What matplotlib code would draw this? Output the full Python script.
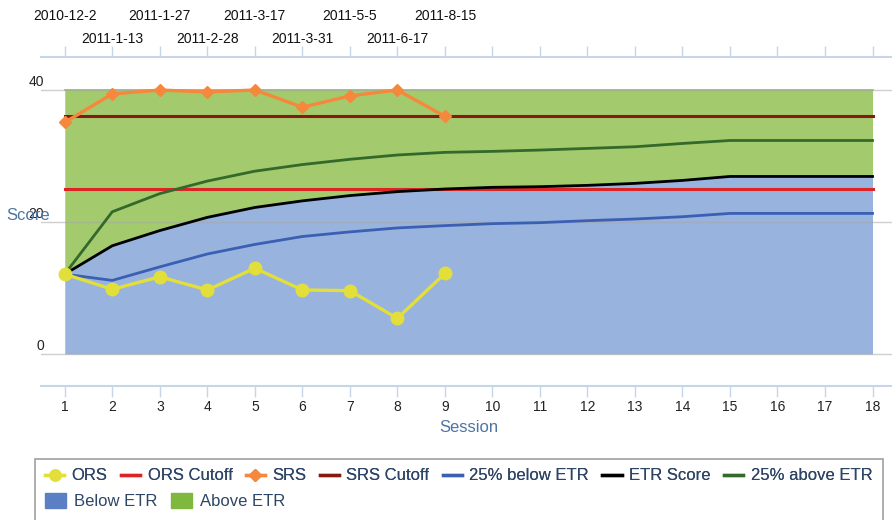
import matplotlib
matplotlib.use("Agg")
import matplotlib.pyplot as plt
import matplotlib.transforms as mtransforms
from matplotlib.lines import Line2D
from matplotlib.patches import Patch, Rectangle

plt.rcParams['font.family'] = ['Liberation Sans', 'DejaVu Sans']

# data
sessions = list(range(1, 19))
dates = ['2010-12-2', '2011-1-13', '2011-1-27', '2011-2-28', '2011-3-17',
         '2011-3-31', '2011-5-5', '2011-6-17', '2011-8-15']
ors = [12.1, 9.8, 11.7, 9.7, 13.0, 9.7, 9.6, 5.4, 12.2]
srs = [35.1, 39.4, 40.0, 39.7, 40.0, 37.4, 39.1, 40.0, 36.0]
ors_cutoff = 25
srs_cutoff = 36
below_etr = [12.1, 11.15, 13.2, 15.15, 16.6, 17.8, 18.5, 19.1, 19.45, 19.75,
             19.9, 20.2, 20.45, 20.8, 21.3, 21.3, 21.3, 21.3]
etr = [12.1, 16.4, 18.7, 20.7, 22.2, 23.2, 24.0, 24.6, 25.0, 25.25,
       25.35, 25.55, 25.85, 26.3, 26.9, 26.9, 26.9, 26.9]
above_etr = [12.1, 21.55, 24.3, 26.2, 27.7, 28.7, 29.5, 30.15, 30.55, 30.7,
             30.9, 31.15, 31.4, 31.9, 32.35, 32.35, 32.35, 32.35]
band_top = 40
y_ticks = [0, 20, 40]

c_blue_fill = '#98b3de'
c_green_fill = '#a3ca6c'
c_ors = '#e3df3a'
c_ors_cut = '#dd2424'
c_srs = '#f5883c'
c_srs_cut = '#861a12'
c_below = '#3a5fb3'
c_above = '#33692a'
c_axis = '#c6d6e8'
c_label = '#4d74a5'
c_legend = '#2e4566'

W, H = 892, 520
fig = plt.figure(figsize=(W / 100, H / 100), dpi=100)
# axes box in pixel coords: left 41, right 892, top 57, bottom 386
ax = fig.add_axes([41 / W, (H - 386) / H, (892 - 41) / W, (386 - 57) / H])
ax.set_xlim(0.5, 18.41)
ax.set_ylim(-4.85, 45.0)

# bands
ax.fill_between(sessions, 0, etr, color=c_blue_fill, lw=0, zorder=1)
ax.fill_between(sessions, etr, band_top, color=c_green_fill, lw=0, zorder=1)
ax.plot(sessions, [band_top] * len(sessions), color='#8dc050', lw=1.2, zorder=2)

# grid lines
for v in y_ticks:
    ax.axhline(v, color='#a8a8a8', lw=1, alpha=0.55, zorder=2)
    ax.annotate(str(v), xy=(0, v), xycoords=('axes fraction', 'data'),
                xytext=(3, 1), textcoords='offset pixels',
                ha='right', va='bottom', fontsize=10, color='#222222')

# cutoffs
ax.plot(sessions, [ors_cutoff] * len(sessions), color=c_ors_cut, lw=2.2, zorder=3)
ax.plot(sessions, [srs_cutoff] * len(sessions), color=c_srs_cut, lw=2.2, zorder=3)

# ETR curves
ax.plot(sessions, below_etr, color=c_below, lw=2, zorder=4)
ax.plot(sessions, above_etr, color=c_above, lw=2, zorder=4)
ax.plot(sessions, etr, color='black', lw=2, zorder=4)

# scores
ax.plot(sessions[:len(ors)], ors, color=c_ors, lw=2.4, marker='o', ms=9,
        zorder=5)
ax.plot(sessions[:len(srs)], srs, color=c_srs, lw=2.4, marker='D', ms=6.5,
        zorder=5)

# axes styling
for s in ['left', 'right']:
    ax.spines[s].set_visible(False)
for s in ['top', 'bottom']:
    ax.spines[s].set_color(c_axis)
    ax.spines[s].set_linewidth(1.5)
ax.set_yticks([])
ax.set_xticks(sessions)
ax.set_xticklabels([str(s) for s in sessions], fontsize=10, color='#222222')
ax.tick_params(axis='x', which='both', length=8, width=1, color=c_axis,
               pad=2, top=True)

# staggered date labels on top
trans = mtransforms.blended_transform_factory(ax.transData, fig.transFigure)
for i, d in enumerate(dates):
    ypix = 16 if i % 2 == 0 else 39
    fig.text(sessions[i], 1 - ypix / H, d, transform=trans, ha='center',
             va='center', fontsize=10, color='#111111')

fig.text(6 / W, 1 - 215 / H, 'Score', ha='left', va='center', fontsize=12,
         color=c_label)
fig.text(469 / W, 1 - 428 / H, 'Session', ha='center', va='center',
         fontsize=12, color=c_label)

# legend box
fig.patches.append(Rectangle((35 / W, -0.05), (883 - 35) / W, 1 - 459 / H + 0.05,
                             transform=fig.transFigure, facecolor='white',
                             edgecolor='#a0a0a0', lw=1.2, zorder=0))

row1 = [
    Line2D([], [], color=c_ors, lw=2.4, marker='o', ms=8),
    Line2D([], [], color=c_ors_cut, lw=2.4),
    Line2D([], [], color=c_srs, lw=2.4, marker='D', ms=6),
    Line2D([], [], color=c_srs_cut, lw=2.4),
    Line2D([], [], color=c_below, lw=2.4),
    Line2D([], [], color='black', lw=2.4),
    Line2D([], [], color=c_above, lw=2.4),
]
labels1 = ['ORS', 'ORS Cutoff', 'SRS', 'SRS Cutoff', '25% below ETR',
           'ETR Score', '25% above ETR']
row2 = [Patch(facecolor='#5b7fc4', edgecolor='#5b7fc4'),
        Patch(facecolor='#7fb83e', edgecolor='#7fb83e')]
labels2 = ['Below ETR', 'Above ETR']

leg1 = fig.legend(row1, labels1, ncol=7, loc='center left',
                  bbox_to_anchor=(45 / W, 1 - 476 / H), frameon=False,
                  fontsize=12, handlelength=1.15, handletextpad=0.45,
                  columnspacing=0.8, borderpad=0, borderaxespad=0,
                  labelcolor=c_legend)
leg2 = fig.legend(row2, labels2, ncol=2, loc='center left',
                  bbox_to_anchor=(45 / W, 1 - 501 / H), frameon=False,
                  fontsize=12, handlelength=1.25, handleheight=1.0,
                  handletextpad=0.5, columnspacing=0.8, borderpad=0,
                  borderaxespad=0, labelcolor=c_legend)
fig.add_artist(leg1)

fig.savefig('out.png', dpi=100)
